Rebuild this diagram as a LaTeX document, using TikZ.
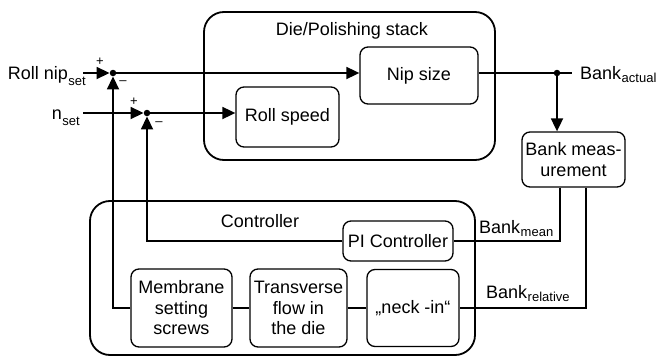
\documentclass[tikz,border=0pt]{standalone}
\usepackage{fontspec}
\setmainfont{Liberation Sans}
\usetikzlibrary{arrows.meta}
\newcommand{\lbsub}[2][3pt]{\kern0.5pt\raisebox{-#1}{\fontsize{13}{14}\selectfont #2}}
\begin{document}
\begin{tikzpicture}[x=1pt,y=-1pt,
  font=\fontsize{18}{20.5}\selectfont,
  bigbox/.style={draw, line width=1.8pt, rounded corners=20pt, inner sep=0pt},
  smallbox/.style={draw, line width=1.3pt, rounded corners=8pt, align=center, inner sep=0pt},
  conn/.style={line width=1.8pt},
  arr/.style={conn, -{Triangle[length=13pt,width=12pt]}},
  jdot/.style={circle, fill, inner sep=0pt, minimum size=6.5pt},
  sign/.style={font=\fontsize{13}{14}\selectfont, inner sep=0pt},
  lbl/.style={inner sep=0pt}]
\useasboundingbox (0,0) rectangle (658,356);

% outer boxes
\node[bigbox, minimum width=291pt, minimum height=148pt] (die) at (349.5,86) {};
\node[lbl, anchor=base] (dietitle) at (352,35) {Die/Polishing stack};
\node[bigbox, minimum width=385pt, minimum height=154pt] (ctrl) at (282.5,278) {};
\node[lbl, anchor=base] (ctrltitle) at (260,227) {Controller};

% inner boxes
\node[smallbox, minimum width=118pt, minimum height=57pt] (nip) at (419,75.5) {Nip size};
\node[smallbox, minimum width=103pt, minimum height=60pt] (rs) at (287.5,117) {Roll speed};
\node[smallbox, minimum width=103pt, minimum height=55pt] (bm) at (573.5,159.5) {Bank meas-\\urement};
\node[smallbox, minimum width=110pt, minimum height=40pt] (pi) at (398,241) {PI Controller};
\node[smallbox, minimum width=101pt, minimum height=78pt] (mem) at (181.5,308) {Membrane\\setting\\screws};
\node[smallbox, minimum width=97pt, minimum height=78pt] (tr) at (298.5,308) {Transverse\\flow in\\the die};
\node[smallbox, minimum width=92pt, minimum height=77pt] (neck) at (413,308) {„neck -in“};

% junctions
\node[jdot] (j1) at (113,73) {};
\node[jdot] (j2) at (147,113) {};
\node[jdot] (j3) at (557,73) {};
\coordinate (rnstart) at (83,73);
\coordinate (nsstart) at (83,113);
\coordinate (bactend) at (572,73);
\coordinate (bmc1) at (560,241);
\coordinate (bmc2) at (586,308);

% labels
\node[lbl, anchor=base east] (rnlbl) at (86,79) {Roll nip\lbsub[6.5pt]{set}};
\node[lbl, anchor=base east] (nslbl) at (80,119) {n\lbsub[6.5pt]{set}};
\node[lbl, anchor=base west] (balbl) at (580,79) {Bank\lbsub{actual}};
\node[lbl, anchor=base west] (bmlbl) at (479,233) {Bank\lbsub{mean}};
\node[lbl, anchor=base west] (brlbl) at (486,298) {Bank\lbsub{relative}};

% signs
\node[sign] (p1) at (100,62) {+};
\node[sign] (m1) at (123,83) {–};
\node[sign] (p2) at (134,102) {+};
\node[sign] (m2) at (159,124) {–};

% connectors
\draw[arr] (rnstart) -- (j1);
\draw[arr] (j1) -- (nip.west |- j1);
\draw[arr] (nsstart) -- (j2);
\draw[arr] (j2) -- (rs.west |- j2);
\draw[conn] (nip.east |- j1) -- (j3) -- (bactend);
\draw[arr] (j3) -- (bm.north -| j3);
\draw[conn] (bm.south -| bmc1) -- (bmc1) -- (pi.east |- bmc1);
\draw[conn] (bm.south -| bmc2) -- (bmc2) -- (neck.east |- bmc2);
\draw[arr] (pi.west) -- (pi.west -| j2) -- (j2);
\draw[arr] (mem.west) -- (mem.west -| j1) -- (j1);
\draw[conn] (mem.east) -- (tr.west);
\draw[conn] (tr.east) -- (neck.west);
\end{tikzpicture}
\end{document}
